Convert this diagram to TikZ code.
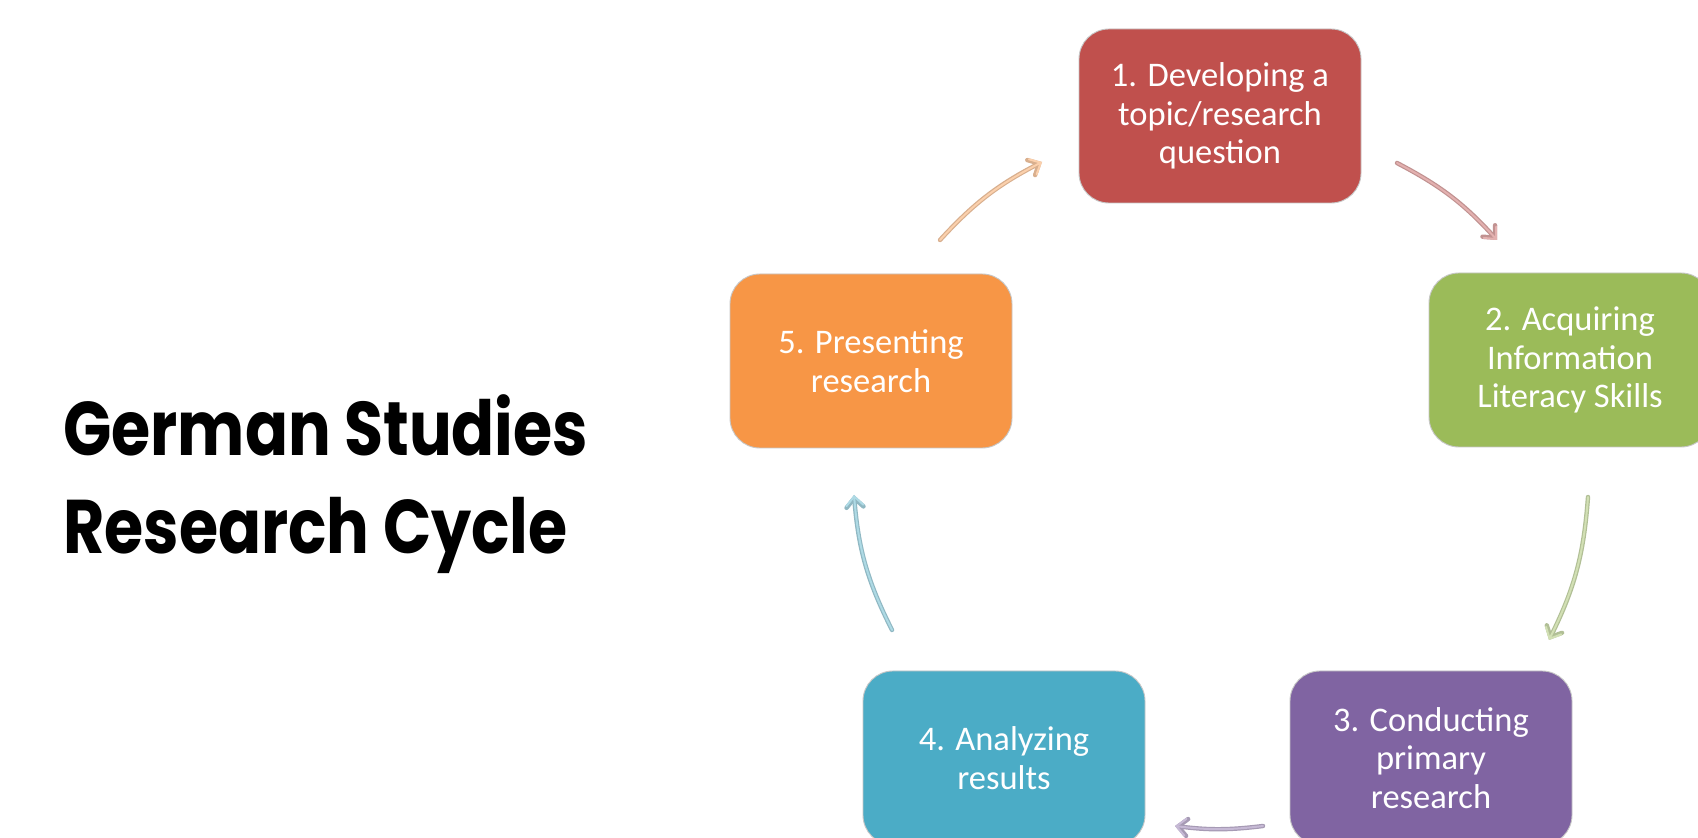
\documentclass[tikz,border=0pt]{standalone}
\usepackage{fontspec}
\setmainfont{Carlito}
\newfontfamily\titlefont{Poppins}[UprightFont=* Bold]
\usetikzlibrary{arrows.meta,calc}
\definecolor{cred}{HTML}{C0504D}
\definecolor{cgreen}{HTML}{9BBB59}
\definecolor{cpurple}{HTML}{8064A2}
\definecolor{cblue}{HTML}{4BACC6}
\definecolor{corange}{HTML}{F79646}
\begin{document}
\begin{tikzpicture}[x=1pt,y=1pt,
  stepbox/.style={draw=gray!45, line width=0.9pt, rounded corners=30pt,
    minimum width=282pt, minimum height=174pt, inner sep=0pt,
    text=white, align=center, font=\fontsize{34.5}{38.5}\selectfont},
  titletext/.style={anchor=base west, inner sep=0pt, font=\titlefont\fontsize{76}{90}\selectfont},
  cyc/.style={line width=2pt, draw=#1!45, line cap=round,
    -{Straight Barb[length=9pt,width=17pt,line cap=round]},
    preaction={draw=#1!60!gray!70, line width=4.4pt, line cap=round,
      -{Straight Barb[length=9pt,width=17pt,line cap=round]}}}
]
\useasboundingbox (0,0) rectangle (1698,838);
\fill[white] (0,0) rectangle (1698,838);

\node[titletext] (t1) at (63,382) {\scalebox{0.835}[1]{German Studies}};
\node[titletext] (t2) at (63,284) {\scalebox{0.835}[1]{Research Cycle}};

\node[stepbox, fill=cred]    (n1) at (1220,722) {1. Developing a\\topic/research\\question};
\node[stepbox, fill=cgreen]  (n2) at (1570,478) {2. Acquiring\\Information\\Literacy Skills};
\node[stepbox, fill=cpurple] (n3) at (1431,80)  {3. Conducting\\primary\\research};
\node[stepbox, fill=cblue]   (n4) at (1004,80)  {4. Analyzing\\results};
\node[stepbox, fill=corange] (n5) at (871,477)  {5. Presenting\\research};

\coordinate (a1s) at (1397,675); \coordinate (a1e) at (1497,598);
\coordinate (a2s) at (1588,341); \coordinate (a2e) at (1549,198);
\coordinate (a3s) at (1263,12);  \coordinate (a3e) at (1175,12);
\coordinate (a4s) at (892,208);  \coordinate (a4e) at (854,343);
\coordinate (a5s) at (940,598);  \coordinate (a5e) at (1042,676);

\draw[cyc=cred]    (a1s) to[bend left=10] (a1e);
\draw[cyc=cgreen]  (a2s) to[bend left=11] (a2e);
\draw[cyc=cpurple] (a3s) to[bend left=7]  (a3e);
\draw[cyc=cblue]   (a4s) to[bend left=11] (a4e);
\draw[cyc=corange] (a5s) to[bend left=10] (a5e);
\end{tikzpicture}
\end{document}
